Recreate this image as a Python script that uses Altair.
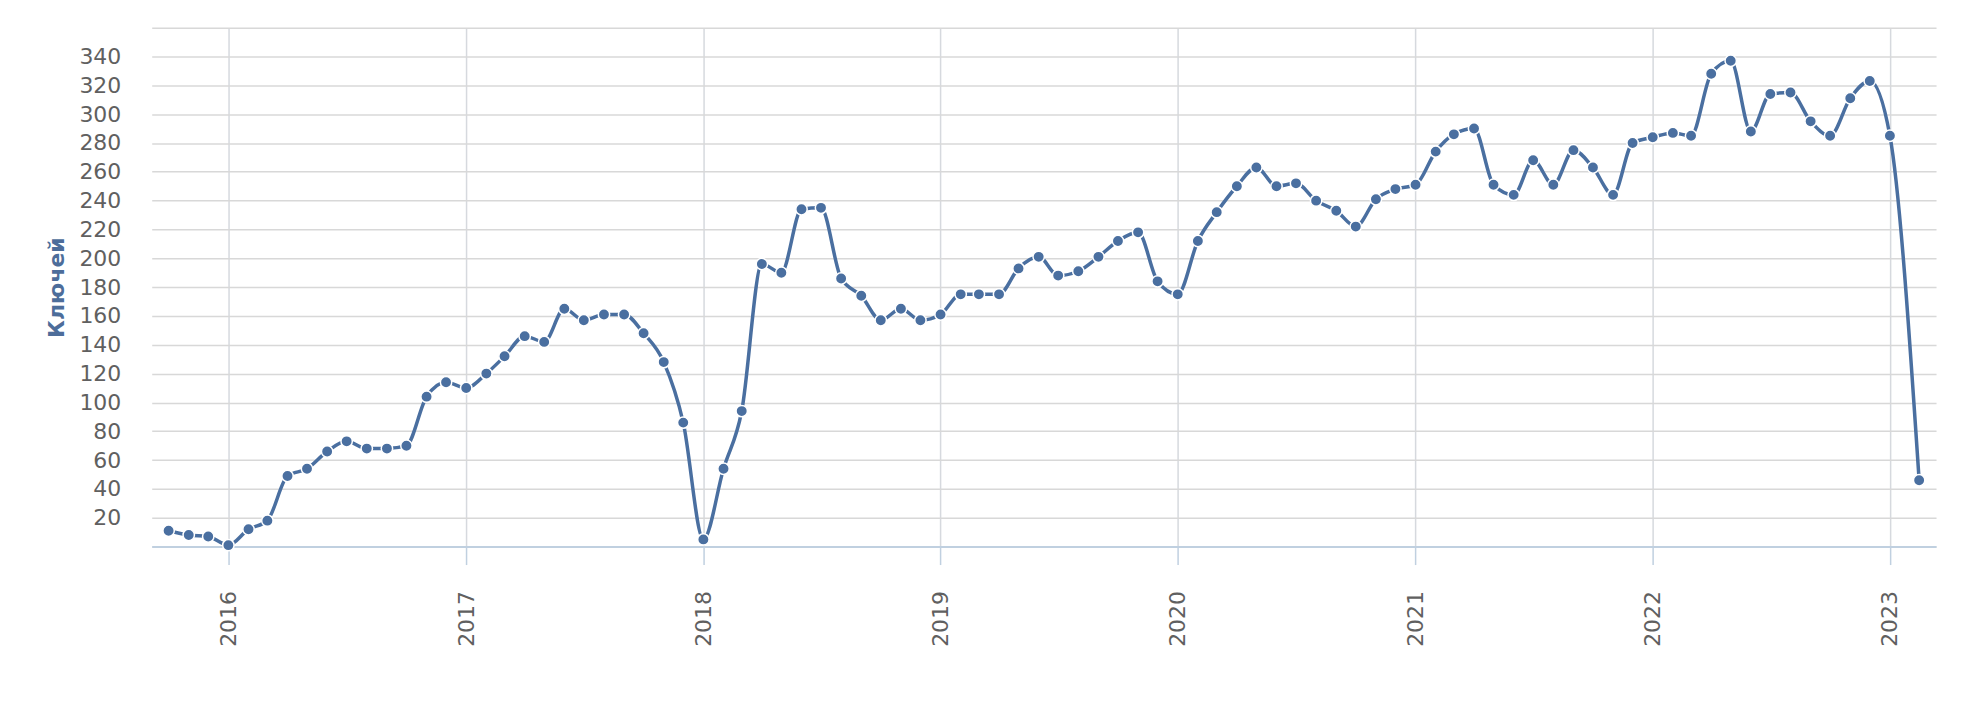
import altair as alt
import pandas as pd

dates = [
    "2015-10-01", "2015-11-01", "2015-12-01",
    "2016-01-01", "2016-02-01", "2016-03-01", "2016-04-01", "2016-05-01", "2016-06-01",
    "2016-07-01", "2016-08-01", "2016-09-01", "2016-10-01", "2016-11-01", "2016-12-01",
    "2017-01-01", "2017-02-01", "2017-03-01", "2017-04-01", "2017-05-01", "2017-06-01",
    "2017-07-01", "2017-08-01", "2017-09-01", "2017-10-01", "2017-11-01", "2017-12-01",
    "2018-01-01", "2018-02-01", "2018-03-01", "2018-04-01", "2018-05-01", "2018-06-01",
    "2018-07-01", "2018-08-01", "2018-09-01", "2018-10-01", "2018-11-01", "2018-12-01",
    "2019-01-01", "2019-02-01", "2019-03-01", "2019-04-01", "2019-05-01", "2019-06-01",
    "2019-07-01", "2019-08-01", "2019-09-01", "2019-10-01", "2019-11-01", "2019-12-01",
    "2020-01-01", "2020-02-01", "2020-03-01", "2020-04-01", "2020-05-01", "2020-06-01",
    "2020-07-01", "2020-08-01", "2020-09-01", "2020-10-01", "2020-11-01", "2020-12-01",
    "2021-01-01", "2021-02-01", "2021-03-01", "2021-04-01", "2021-05-01", "2021-06-01",
    "2021-07-01", "2021-08-01", "2021-09-01", "2021-10-01", "2021-11-01", "2021-12-01",
    "2022-01-01", "2022-02-01", "2022-03-01", "2022-04-01", "2022-05-01", "2022-06-01",
    "2022-07-01", "2022-08-01", "2022-09-01", "2022-10-01", "2022-11-01", "2022-12-01",
    "2023-01-01", "2023-02-15",
]

keys = [
    11, 8, 7,
    1, 12, 18, 49, 54, 66,
    73, 68, 68, 70, 104, 114,
    110, 120, 132, 146, 142, 165,
    157, 161, 161, 148, 128, 86,
    5, 54, 94, 196, 190, 234,
    235, 186, 174, 157, 165, 157,
    161, 175, 175, 175, 193, 201,
    188, 191, 201, 212, 218, 184,
    175, 212, 232, 250, 263, 250,
    252, 240, 233, 222, 241, 248,
    251, 274, 286, 290, 251, 244,
    268, 251, 275, 263, 244, 280,
    284, 287, 285, 328, 337, 288,
    314, 315, 295, 285, 311, 323,
    285, 46,
]

year_ticks = list(range(2016, 2024))
y_ticks = list(range(0, 361, 20))
y_title = "Ключей"

df = pd.DataFrame({"date": dates, "keys": keys})

LINE = "#4a6fa0"
FONT = "DejaVu Sans"

x_enc = alt.X(
    "date:T",
    title=None,
    scale=alt.Scale(
        type="utc",
        domain=[
            alt.DateTime(year=2015, month=9, date=5, utc=True),
            alt.DateTime(year=2023, month=3, date=13, utc=True),
        ],
    ),
    axis=alt.Axis(
        values=[alt.DateTime(year=y, month=1, date=1, utc=True) for y in year_ticks],
        labelExpr="utcFormat(datum.value, '%Y')",
        labelAngle=270,
        labelFont=FONT,
        labelFontSize=22,
        labelColor="#606060",
        labelPadding=26,
        labelOverlap=False,
        tickSize=18,
        tickColor="#c0d0e0",
        tickWidth=1.5,
        domainColor="#c0d0e0",
        domainWidth=2,
        grid=True,
        gridColor="#d6d9de",
        gridWidth=1.5,
    ),
)

y_enc = alt.Y(
    "keys:Q",
    title=y_title,
    scale=alt.Scale(domain=[0, 360], nice=False, zero=True),
    axis=alt.Axis(
        values=y_ticks,
        labelExpr="datum.value == 0 || datum.value == 360 ? '' : datum.label",
        labelFont=FONT,
        labelFontSize=22,
        labelColor="#606060",
        labelPadding=31,
        labelOverlap=False,
        ticks=False,
        domain=False,
        grid=True,
        gridColor="#d8d8d8",
        gridWidth=1.5,
        titleFont=FONT,
        titleFontSize=22,
        titleFontWeight="bold",
        titleColor="#4d6d9a",
        titleAngle=270,
        titleX=-95,
        titleY=260,
        titleAlign="center",
        titleBaseline="middle",
    ),
)

base = alt.Chart(df).encode(x=x_enc, y=y_enc)

line = base.mark_line(color=LINE, strokeWidth=3.5, interpolate="monotone")

points = base.mark_point(
    filled=True, shape="circle", size=130, color=LINE,
    stroke="white", strokeWidth=1.5, opacity=1,
)

chart = alt.layer(line, points).properties(
    width=1788,
    height=520,
    autosize=alt.AutoSizeParams(type="none"),
    padding={"left": 144, "top": 19, "right": 20, "bottom": 140},
).configure_view(stroke=None)

chart.save("out.html", embed_options={"renderer": "svg", "actions": False})
